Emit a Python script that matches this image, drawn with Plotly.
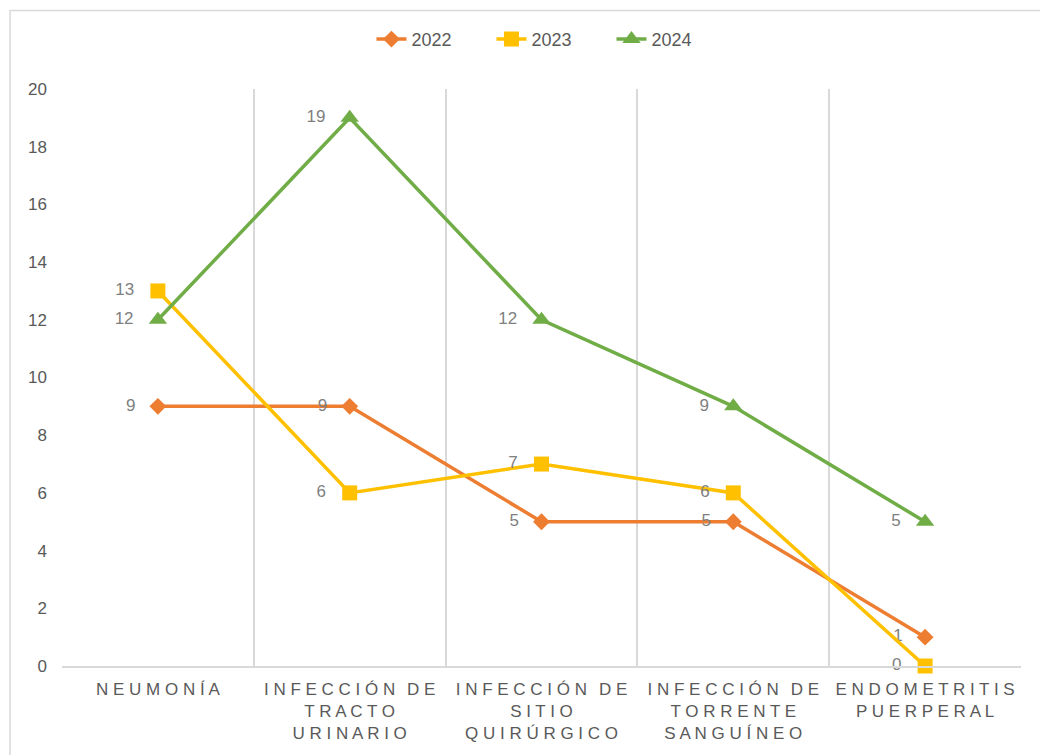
import plotly.graph_objects as go

categories = ["NEUMONÍA", "INFECCIÓN DE TRACTO URINARIO", "INFECCIÓN DE SITIO QUIRÚRGICO",
              "INFECCIÓN DE TORRENTE SANGUÍNEO", "ENDOMETRITIS PUERPERAL"]
cat_lines = [["NEUMONÍA"], ["INFECCIÓN DE", "TRACTO", "URINARIO"], ["INFECCIÓN DE", "SITIO", "QUIRÚRGICO"],
             ["INFECCIÓN DE", "TORRENTE", "SANGUÍNEO"], ["ENDOMETRITIS", "PUERPERAL"]]
years = ["2022", "2023", "2024"]
v2022 = [9, 9, 5, 5, 1]
v2023 = [13, 6, 7, 6, 0]
v2024 = [12, 19, 12, 9, 5]
y_ticks = [0, 2, 4, 6, 8, 10, 12, 14, 16, 18, 20]

colors = ["#ED7D31", "#FFC000", "#70AD47"]
symbols = ["diamond", "square", "triangle-up"]
msizes = [13, 15, 16]


def spaced(line):
    words = line.split(" ")
    return "\u2002\u2009".join(" ".join(list(w)) for w in words)


ticktext = ["<br>".join(spaced(l) for l in lines) for lines in cat_lines]
xpos = list(range(len(categories)))

fig = go.Figure()
for name, vals, c, s, ms in zip(years, [v2022, v2023, v2024], colors, symbols, msizes):
    fig.add_trace(go.Scatter(
        x=xpos, y=vals, name=name, mode="lines+markers+text",
        line=dict(color=c, width=3.5),
        marker=dict(symbol=s, size=ms, color=c),
        text=[str(v) + "\u2002\u2009\u200a" for v in vals], textposition="middle left",
        textfont=dict(color="#7f7f7f", size=17, family="Liberation Sans, Arial"),
        cliponaxis=False,
    ))

# invisible trace to activate the category-boundary gridline axis
fig.add_trace(go.Scatter(x=[-0.5, len(categories) - 0.5], y=[0, 0], xaxis="x2", mode="none",
                         showlegend=False, hoverinfo="skip"))

fig.update_layout(
    width=1040, height=747,
    margin=dict(l=54, r=27, t=81, b=84),
    paper_bgcolor="white", plot_bgcolor="white",
    font=dict(family="Liberation Sans, Arial", color="#595959", size=17),
    legend=dict(orientation="h", x=0.5104, xanchor="center", y=1.086, yanchor="middle",
                font=dict(size=18, color="#595959"), traceorder="normal",
                entrywidth=75, entrywidthmode="pixels"),
    xaxis=dict(range=[-0.5, len(categories) - 0.5], tickvals=xpos, ticktext=ticktext,
               showgrid=False, zeroline=False, showline=True, linecolor="#d9d9d9", linewidth=1.5,
               ticks="", tickfont=dict(size=17, color="#595959"), tickangle=0,
               ticklabelstandoff=7),
    xaxis2=dict(range=[-0.5, len(categories) - 0.5], overlaying="x",
                tickvals=[i - 0.5 for i in range(len(categories) + 1)],
                showticklabels=False, showgrid=True, gridcolor="#d9d9d9", gridwidth=1.5,
                zeroline=False, showline=False, ticks=""),
    yaxis=dict(range=[0, 20], tickvals=y_ticks, showgrid=False, zeroline=False, showline=False,
               ticks="", tickfont=dict(size=17, color="#595959"), ticklabelstandoff=14),
    shapes=[dict(type="rect", xref="paper", yref="paper", x0=-0.0542, x1=1.1, y0=-0.3, y1=1.136,
                 line=dict(color="#d9d9d9", width=1.5), layer="below")],
)
fig.write_html("out.html")
